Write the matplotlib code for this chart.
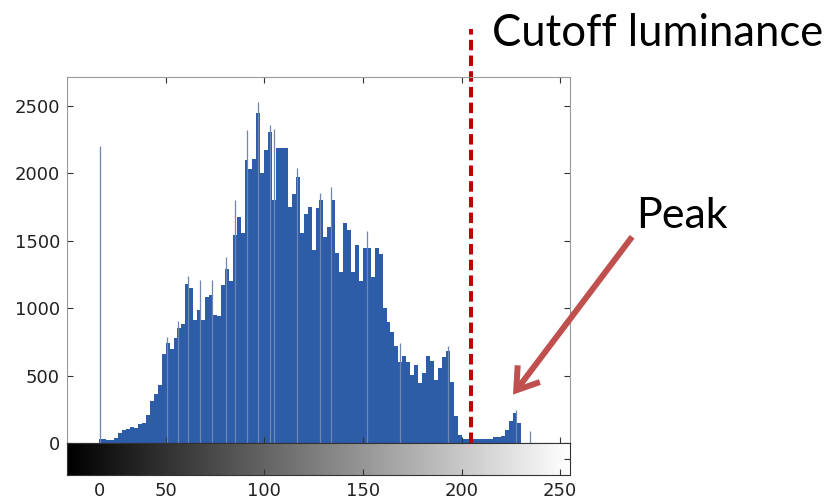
import numpy as np
import matplotlib.pyplot as plt

# luminance histogram (2-level bins, left edges)
bin_left = list(range(16, 230, 2))
counts = [30, 28, 25, 25, 40, 75, 95, 105, 115, 110,
          140, 150, 210, 310, 360, 430, 660, 740, 700, 780,
          850, 880, 1180, 1150, 915, 990, 915, 1080, 1100, 950,
          940, 1170, 1290, 1200, 1540, 1680, 1560, 2100, 2030, 2110,
          2450, 2000, 2170, 2310, 1800, 2190, 2190, 2190, 1750, 1850,
          1975, 1560, 1700, 1750, 1430, 1740, 1800, 1530, 1605, 1800,
          1410, 1272, 1630, 1580, 1270, 1470, 1200, 1446, 1446, 1230,
          1446, 1400, 1000, 900, 820, 716, 600, 644, 600, 508,
          580, 445, 519, 644, 610, 470, 560, 640, 680, 450,
          200, 60, 28, 26, 26, 26, 26, 30, 30, 30,
          45, 45, 50, 100, 160, 223, 150]

# thin single-level spikes
spike_pos = [16.5, 50.5, 56.5, 61.5, 67.5, 73.5, 80.5, 85, 91, 97,
             103, 105, 116.4, 128.5, 133.6, 151.9, 169, 193.3, 227.7, 234.5]
spike_val = [2200, 790, 905, 1236, 1210, 1211, 1383, 1800, 2323, 2530,
             2360, 2330, 2037, 1852, 1900, 1569, 744, 716, 247, 87]

cutoff = 204.6
xticks = [50, 100, 150, 200, 250]
yticks = [0, 500, 1000, 1500, 2000, 2500]

BLUE = '#2d5ca8'
W, H = 827, 499

fig = plt.figure(figsize=(W / 100, H / 100), dpi=100)

def box(l, t, r, b):
    return [l / W, 1 - b / H, (r - l) / W, (b - t) / H]

ax = fig.add_axes(box(67, 77, 570, 443))
ax.bar(bin_left, counts, width=2, align='edge', color=BLUE, linewidth=0)
ax.vlines(spike_pos, 0, spike_val, color='#6f86b0', lw=0.9)
ax.set_xlim(0, 255)
ax.set_ylim(0, 2715)
ax.set_xticks(xticks)
ax.set_xticklabels([])
ax.set_yticks(yticks)
ax.tick_params(direction='in', length=4, width=0.8, color='#333333',
               top=True, right=True, labelsize=13, pad=5, labelcolor='#222222')
for s in ax.spines.values():
    s.set_color('#9a9a9a')
ax.spines['bottom'].set_color('#333333')

# cutoff line, running up above the frame
ax.plot([cutoff, cutoff], [0, 3070], color='#c00000', lw=2.9,
        dashes=(2.6, 1.3), clip_on=False)

# grey-scale bar under the histogram
cb = fig.add_axes(box(67, 443, 570, 475))
cb.imshow(np.linspace(0, 1, 256)[None, :], cmap='gray', aspect='auto',
          extent=[0, 255, 0, 1])
cb.set_xlim(0, 255)
cb.set_xticks(xticks)
cb.set_xticks([16.5], labels=['0'], minor=True)
cb.set_yticks([0.5])
cb.set_yticklabels([])
cb.tick_params(which='both', direction='in', length=4, width=0.8, color='#333333',
               left=False, right=True, labelsize=13, pad=5, labelcolor='#222222')
cb.tick_params(which='minor', length=0)
for s in cb.spines.values():
    s.set_color('#333333')

fig.text(492 / W, 1 - 46 / H, 'Cutoff luminance', fontsize=31.4,
         family='Lato', color='black', va='baseline', ha='left')
fig.text(636 / W, 1 - 228 / H, 'Peak', fontsize=31,
         family='Lato', color='black', va='baseline', ha='left')

ax.annotate('', xy=(226.1, 359), xytext=(286.5, 1530), textcoords='data',
            annotation_clip=False,
            arrowprops=dict(arrowstyle='->, head_length=0.75, head_width=0.5',
                            color='#c0504d', lw=4.3, mutation_scale=20,
                            shrinkA=0, shrinkB=0, joinstyle='miter',
                            capstyle='butt'))

fig.savefig('out.png', dpi=100)
